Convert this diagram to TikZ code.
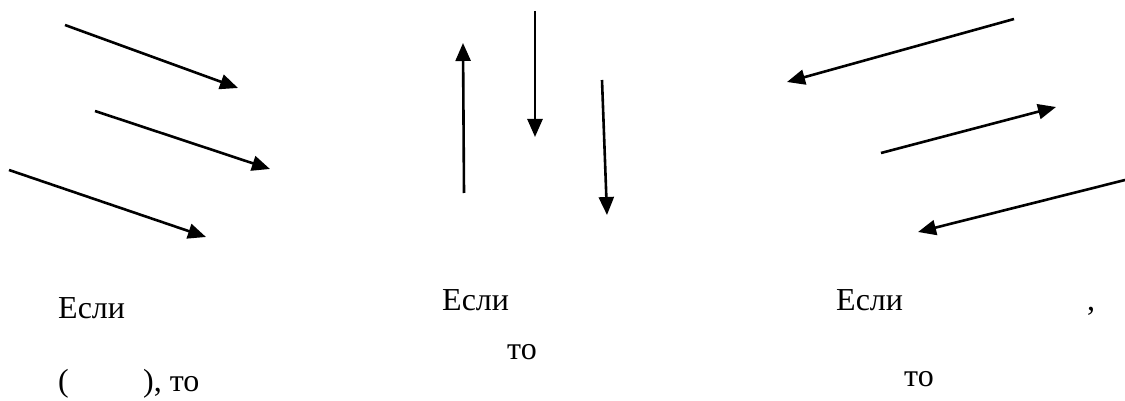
\documentclass[tikz,border=0pt]{standalone}
\usepackage{fontspec}
\setmainfont{Liberation Serif}
\usetikzlibrary{arrows.meta}
\begin{document}
\begin{tikzpicture}[x=1pt,y=-1pt,
  vec/.style={line width=2.6pt,-{Triangle[length=18pt,width=15pt]}},
  lbl/.style={anchor=base west,inner sep=0pt,font=\fontsize{32}{32}\selectfont}]
\useasboundingbox[fill=white] (0,0) rectangle (1125,401);
% left group
\coordinate (a1s) at (65,25);  \coordinate (a1e) at (238,88);
\coordinate (a2s) at (95,111); \coordinate (a2e) at (270,169);
\coordinate (a3s) at (9,170);  \coordinate (a3e) at (206,237);
% middle group
\coordinate (b1s) at (464,193); \coordinate (b1e) at (463,43);
\coordinate (b2s) at (535,11);  \coordinate (b2e) at (535,137);
\coordinate (b3s) at (602,80);  \coordinate (b3e) at (607,215);
% right group
\coordinate (c1s) at (1014,19); \coordinate (c1e) at (787,82);
\coordinate (c2s) at (881,153); \coordinate (c2e) at (1056,107);
\coordinate (c3s) at (1125,180); \coordinate (c3e) at (918,232);
\foreach \n in {a1,a2,a3,b1,b2,b3,c1,c2,c3}
  \draw[vec] (\n s) -- (\n e);
% labels
\node[lbl] (t1) at (58,318) {Если};
\node[lbl] (t2) at (58,391) {(};
\node[lbl] (t3) at (143,391) {), то};
\node[lbl] (t4) at (442,310) {Если};
\node[lbl] (t5) at (507,359) {то};
\node[lbl] (t6) at (836,310) {Если};
\node[lbl] (t7) at (1087,310) {,};
\node[lbl] (t8) at (904,386) {то};
\end{tikzpicture}
\end{document}
